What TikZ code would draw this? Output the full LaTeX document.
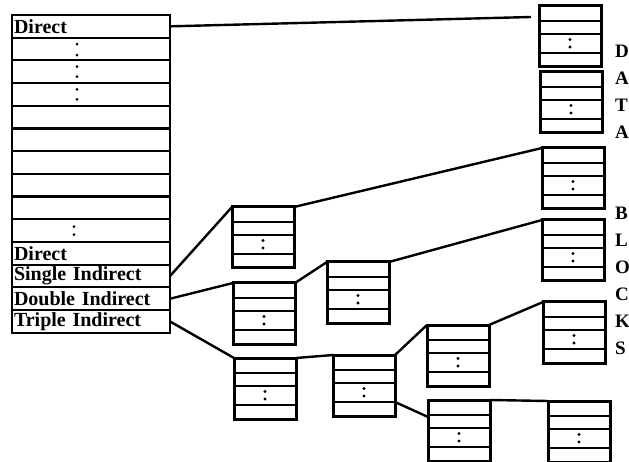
\documentclass[tikz,border=0pt]{standalone}
\usepackage{fontspec}
\setmainfont{Liberation Serif}
\usepackage{tikz}
\usetikzlibrary{positioning}
\tikzset{
  inoderow/.style={draw,line width=2.2pt,minimum width=158pt,minimum height=22.7pt,text width=154pt,align=left,inner xsep=2pt,inner ysep=0pt,outer sep=0pt,font=\fontsize{20}{20}\selectfont\bfseries},
  blk/.style={draw,line width=3pt,minimum width=62pt,minimum height=61pt,inner sep=0pt,outer sep=0pt,anchor=north west,
    path picture={
      \draw[line width=2.8pt] ([yshift=-15pt]path picture bounding box.north west) -- ([yshift=-15pt]path picture bounding box.north east);
      \draw[line width=2.8pt] ([yshift=-28pt]path picture bounding box.north west) -- ([yshift=-28pt]path picture bounding box.north east);
      \draw[line width=2.8pt] ([yshift=-47pt]path picture bounding box.north west) -- ([yshift=-47pt]path picture bounding box.north east);
      \fill ([yshift=-33.5pt]path picture bounding box.north) circle (1.7pt);
      \fill ([yshift=-41pt]path picture bounding box.north) circle (1.7pt);
    }},
  link/.style={line width=2.4pt},
  lettercol/.style={anchor=west,inner sep=0pt,align=left,font=\fontsize{19}{27}\selectfont\bfseries},
  rowdot/.style={radius=1.5pt},
}
\begin{document}
\begin{tikzpicture}[x=1pt,y=-1pt]
  \useasboundingbox (0,0) rectangle (629,462);
  % inode table
  \node[inoderow,anchor=north west] (r1) at (12,15) {Direct};
  \node[inoderow,below=0pt of r1] (r2) {};
  \node[inoderow,below=0pt of r2] (r3) {};
  \node[inoderow,below=0pt of r3] (r4) {};
  \node[inoderow,below=0pt of r4] (r5) {};
  \node[inoderow,below=0pt of r5] (r6) {};
  \node[inoderow,below=0pt of r6] (r7) {};
  \node[inoderow,below=0pt of r7] (r8) {};
  \node[inoderow,below=0pt of r8] (r9) {};
  \node[inoderow,below=0pt of r9] (r10) {};
  \node[inoderow,below=0pt of r10] (r11) {Direct};
  \node[inoderow,below=0pt of r11] (r12) {Single Indirect};
  \node[inoderow,below=0pt of r12] (r13) {Double Indirect};
  \node[inoderow,below=0pt of r13] (r14) {Triple Indirect};
  \fill[rowdot] ([xshift=65pt,yshift=5pt]r2.west) circle; \fill[rowdot] ([xshift=65pt,yshift=-6pt]r2.west) circle;
  \fill[rowdot] ([xshift=65pt,yshift=5pt]r3.west) circle; \fill[rowdot] ([xshift=65pt,yshift=-5pt]r3.west) circle;
  \fill[rowdot] ([xshift=65pt,yshift=5pt]r4.west) circle; \fill[rowdot] ([xshift=65pt,yshift=-5pt]r4.west) circle;
  \fill[rowdot] ([xshift=62pt,yshift=4pt]r10.west) circle; \fill[rowdot] ([xshift=62pt,yshift=-4pt]r10.west) circle;

  % blocks
  \node[blk] (s1) at (232,207) {};
  \node[blk] (da) at (233,283) {};
  \node[blk] (db) at (327,262) {};
  \node[blk] (t1) at (234,358) {};
  \node[blk] (t2) at (333,355) {};
  \node[blk] (b4) at (427,325) {};
  \node[blk] (b5) at (428,400) {};
  \node[blk] (d1) at (539,6) {};
  \node[blk] (d2) at (540,72) {};
  \node[blk] (b1) at (542,148) {};
  \node[blk] (b2) at (542,220) {};
  \node[blk] (b3) at (543,302) {};
  \node[blk] (b6) at (548,401) {};

  \node[lettercol] (datalbl) at (615,92) {D\\A\\T\\A};
  \node[lettercol] (blockslbl) at (615,281) {B\\L\\O\\C\\K\\S};

  % pointers
  \draw[link] (r1.east) -- ([xshift=-8pt,yshift=-11pt]d1.north west);
  \draw[link] (r12.east) -- (s1.north west);
  \draw[link] (s1.north east) -- (b1.north west);
  \draw[link] (r13.east) -- (da.north west);
  \draw[link] (da.north east) -- (db.north west);
  \draw[link] (db.north east) -- (b2.north west);
  \draw[link] (r14.east) -- (t1.north west);
  \draw[link] (t1.north east) -- (t2.north west);
  \draw[link] (t2.north east) -- (b4.north west);
  \draw[link] (b4.north east) -- (b3.north west);
  \draw[link] ([yshift=-47pt]t2.north east) -- ([yshift=-17pt]b5.north west);
  \draw[link] (b5.north east) -- (b6.north west);
\end{tikzpicture}
\end{document}
